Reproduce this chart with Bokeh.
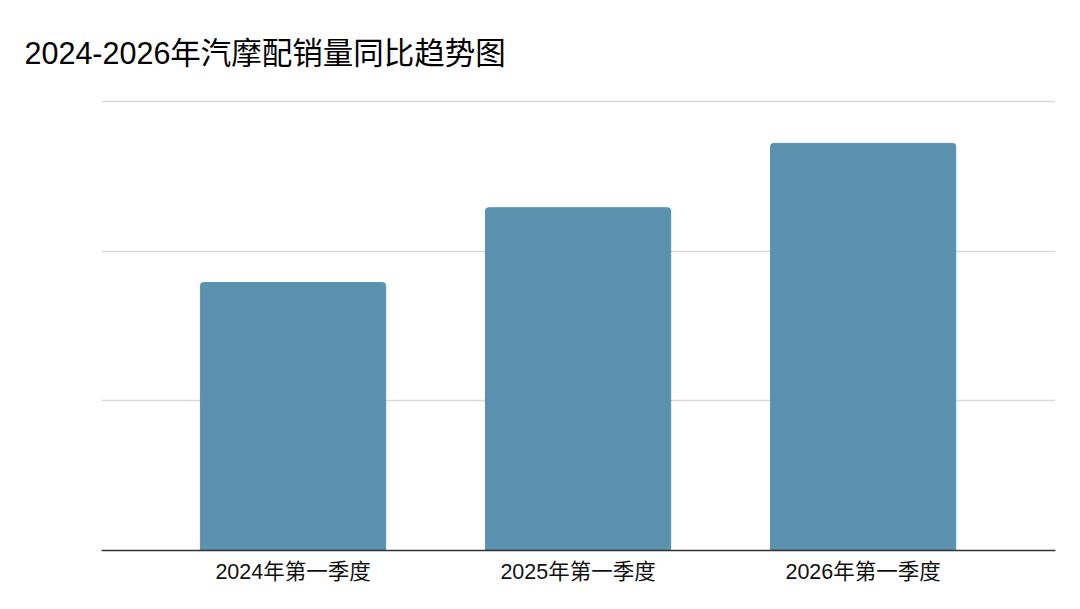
from bokeh.plotting import figure
from bokeh.models import FixedTicker
from bokeh.embed import file_html
from bokeh.resources import INLINE

# data
quarters = ["2024年第一季度", "2025年第一季度", "2026年第一季度"]
sales = [1.79, 2.29, 2.72]
positions = [0, 1, 2]

FONT = "Liberation Sans, Noto Sans CJK SC"

p = figure(width=1064, height=593, output_backend="svg", toolbar_location=None,
           x_range=(-0.672, 2.675), y_range=(0, 3.02),
           min_border_left=101, min_border_right=9, min_border_bottom=43, min_border_top=98)

p.title.text = "2024-2026年汽摩配销量同比趋势图"
p.title.text_font = FONT
p.title.text_font_size = "30.5px"
p.title.text_font_style = "normal"
p.title.text_color = "#000000"
p.title.text_line_height = 0.7
p.title.align = "left"
p.title.offset = -77
p.title.standoff = 57

p.vbar(x=positions, top=sales, bottom=0, width=0.65, color="#5A91AE",
       border_radius=(3, 3, 0, 0))

p.outline_line_color = None
p.xgrid.visible = False
p.ygrid.ticker = FixedTicker(ticks=[0, 1, 2, 3])
p.ygrid.grid_line_color = "#d9d9d9"
p.ygrid.grid_line_width = 1.5
p.yaxis.visible = False

p.xaxis.ticker = FixedTicker(ticks=positions)
p.xaxis.major_label_overrides = {i: q for i, q in zip(positions, quarters)}
p.xaxis.major_tick_line_color = None
p.xaxis.minor_tick_line_color = None
p.xaxis.axis_line_color = "#333333"
p.xaxis.axis_line_width = 1.5
p.xaxis.major_label_text_font = FONT
p.xaxis.major_label_text_font_size = "21.5px"
p.xaxis.major_label_text_color = "#111111"
p.xaxis.major_label_standoff = 3

open("out.html", "w").write(file_html(p, INLINE))
